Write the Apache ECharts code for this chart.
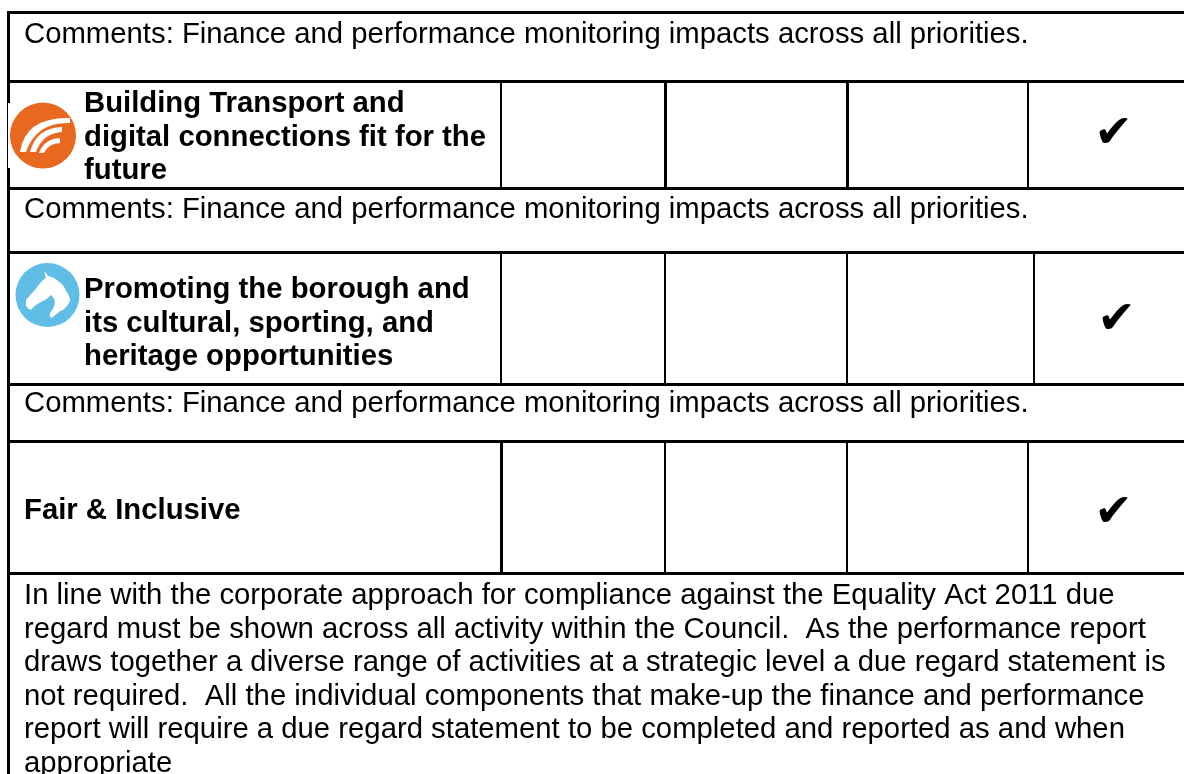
<!DOCTYPE html>
<html>
<head>
<meta charset="utf-8">
<script src="https://cdn.jsdelivr.net/npm/echarts@6/dist/echarts.min.js"></script>
<style>
html,body{margin:0;padding:0;background:#fff;}
#main{width:1184px;height:774px;}
</style>
</head>
<body>
<div id="main"></div>
<script>
// table content
var commentText = 'Comments: Finance and performance monitoring impacts across all priorities.';
var priorityOne = ['Building Transport and', 'digital connections fit for the', 'future'];
var priorityTwo = ['Promoting the borough and', 'its cultural, sporting, and', 'heritage opportunities'];
var priorityThree = ['Fair & Inclusive'];
var tickMark = '\u2714';
var equalityLines = [
	'In line with the corporate approach for compliance against the Equality Act 2011 due',
	'regard must be shown across all activity within the Council.  As the performance report',
	'draws together a diverse range of activities at a strategic level a due regard statement is',
	'not required.  All the individual components that make-up the finance and performance',
	'report will require a due regard statement to be completed and reported as and when',
	'appropriate'
];

var FONT = '"Liberation Sans", Arial, sans-serif';
var FONT_SIZE = 29.3;
var LINE_H = 33.6;

// icon outlines, graphic has no plain path type so they get registered
echarts.graphic.registerShape('wavesIcon', echarts.graphic.extendPath(
	'M20 152 Q25 117 70 118 L70 123 Q36 122 26 152 Z ' +
	'M30 152 Q36 128 62 127 L62 132 Q43 133 36 152 Z ' +
	'M39 153 Q44 139 60 138 L60 143 Q49 143 44 153 Z', {}));
echarts.graphic.registerShape('horseIcon', echarts.graphic.extendPath(
	'M44 271 Q47 274 48 276 Q54 277 58 281 Q64 285 66 291 Q70 296 70 301 Q68 306 63 310 ' +
	'Q59 311 58 313 Q55 315 53 317 L51 318 Q49 316 50 313 Q55 307 55 301 Q54 298 51 295 ' +
	'Q48 298 45 300 Q40 302 36 305 Q33 307 31 310 Q28 309 26 306 L26 300 Q30 295 35 290 ' +
	'Q39 284 43 280 L46 278 Z', {}));

var els = [];

function bar(x, y, w, h) {
	els.push({type: 'rect', silent: true, shape: {x: x, y: y, width: w, height: h}, style: {fill: '#000'}});
}
function label(str, x, y, bold) {
	els.push({type: 'text', silent: true, x: x, y: y, style: {
		text: str, fill: '#000', font: (bold ? 'bold ' : '') + FONT_SIZE + 'px ' + FONT,
		verticalAlign: 'middle'
	}});
}
function lines(list, x, y, bold) {
	for (var i = 0; i < list.length; i++) {
		label(list[i], x, y + i * LINE_H, bold);
	}
}
function tick(x, y) {
	els.push({type: 'text', silent: true, x: x, y: y, style: {
		text: tickMark, fill: '#000', font: '46px "DejaVu Sans"',
		align: 'center', verticalAlign: 'middle'
	}});
}

// table rules
bar(7, 11, 3, 763);
bar(7, 11, 1177, 3);
bar(7, 80, 1177, 3);
bar(7, 187, 1177, 3);
bar(7, 251, 1177, 3);
bar(7, 383, 1177, 3);
bar(7, 440, 1177, 3);
bar(7, 572, 1177, 3);

[[500, 2], [664, 3], [846, 3], [1027, 2]].forEach(function (c) { bar(c[0], 82, c[1], 106); });
[[500, 2], [664, 2], [846, 2], [1033, 2]].forEach(function (c) { bar(c[0], 253, c[1], 131); });
[[500, 3], [664, 2], [846, 2], [1027, 2]].forEach(function (c) { bar(c[0], 442, c[1], 131); });

// orange icon
els.push({type: 'rect', silent: true, shape: {x: 8, y: 103, width: 70, height: 65}, style: {fill: '#fff'}});
els.push({type: 'circle', silent: true, shape: {cx: 43, cy: 135.5, r: 33}, style: {fill: '#e8681f'}});
els.push({type: 'wavesIcon', silent: true, style: {fill: '#fff'}});

// blue icon
els.push({type: 'circle', silent: true, shape: {cx: 47.5, cy: 295, r: 32}, style: {fill: '#5fbde6'}});
els.push({type: 'horseIcon', silent: true, style: {fill: '#fff'}});

// text
label(commentText, 24, 35, false);
lines(priorityOne, 84, 104, true);
tick(1113.5, 135);
label(commentText, 24, 210, false);
lines(priorityTwo, 84, 290, true);
tick(1116.5, 321.5);
label(commentText, 24, 404, false);
lines(priorityThree, 24, 511, true);
tick(1113.5, 514);
lines(equalityLines, 24, 596, false);

var chart = echarts.init(document.getElementById('main'));
chart.setOption({
	backgroundColor: '#fff',
	animation: false,
	graphic: {elements: els}
});
</script>
</body>
</html>
